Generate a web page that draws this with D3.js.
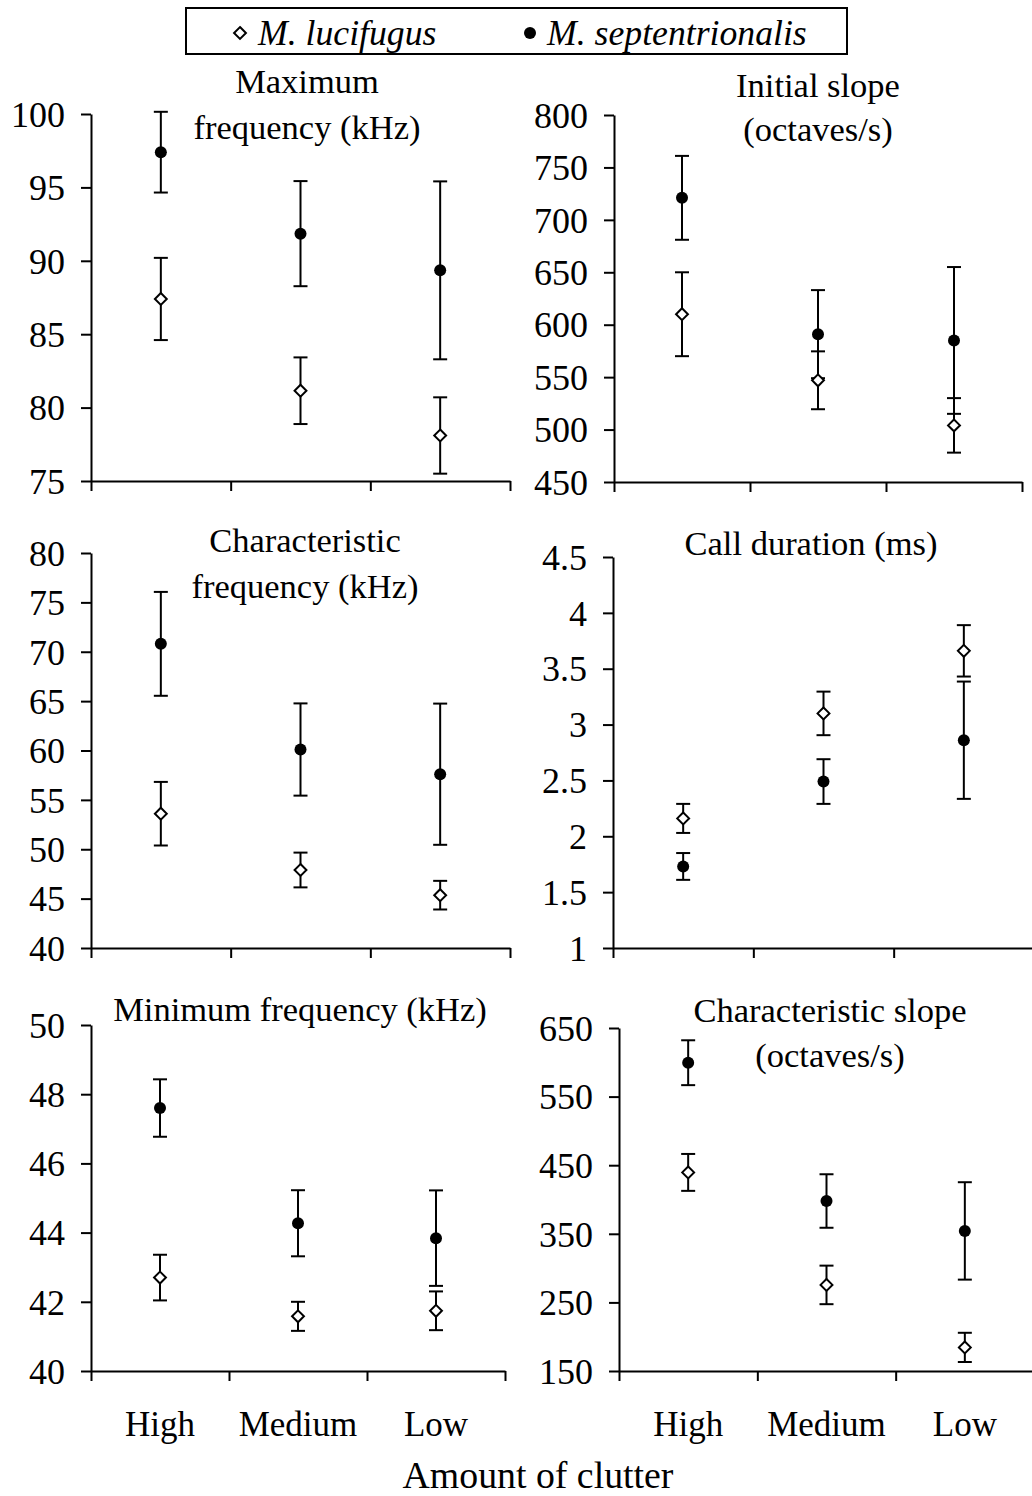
<!DOCTYPE html>
<html>
<head>
<meta charset="utf-8">
<script src="https://cdn.jsdelivr.net/npm/d3@7"></script>
<style>
  body { margin: 0; background: white; }
</style>
</head>
<body>
<svg id="chart" width="1032" height="1496"></svg>
<script>
var serif = "'Liberation Serif', 'Times New Roman', 'DejaVu Serif', serif";

var categories = ["High", "Medium", "Low"];

// means and half-width of the error bars, per panel
var maxFreqLuc = [87.4, 81.15, 78.1];
var maxFreqLucErr = [2.8, 2.27, 2.6];
var maxFreqSept = [97.4, 91.85, 89.35];
var maxFreqSeptErr = [2.75, 3.58, 6.06];

var initSlopeLuc = [610, 547, 504];
var initSlopeLucErr = [40, 27.6, 26];
var initSlopeSept = [721, 591, 585];
var initSlopeSeptErr = [40, 42, 70];

var charFreqLuc = [53.6, 47.9, 45.35];
var charFreqLucErr = [3.22, 1.76, 1.45];
var charFreqSept = [70.8, 60.1, 57.6];
var charFreqSeptErr = [5.26, 4.67, 7.15];

var durationLuc = [2.16, 3.1, 3.66];
var durationLucErr = [0.13, 0.195, 0.23];
var durationSept = [1.73, 2.49, 2.86];
var durationSeptErr = [0.12, 0.2, 0.525];

var minFreqLuc = [42.7, 41.58, 41.74];
var minFreqLucErr = [0.66, 0.42, 0.56];
var minFreqSept = [47.6, 44.27, 43.84];
var minFreqSeptErr = [0.83, 0.955, 1.38];

var charSlopeLuc = [439.5, 275.5, 184.4];
var charSlopeLucErr = [26.9, 28.1, 21.3];
var charSlopeSept = [599.4, 397.8, 354.2];
var charSlopeSeptErr = [32.7, 39, 71];

var maxFreqTicks = [75, 80, 85, 90, 95, 100];
var initSlopeTicks = [450, 500, 550, 600, 650, 700, 750, 800];
var charFreqTicks = [40, 45, 50, 55, 60, 65, 70, 75, 80];
var durationTicks = [1, 1.5, 2, 2.5, 3, 3.5, 4, 4.5];
var minFreqTicks = [40, 42, 44, 46, 48, 50];
var charSlopeTicks = [150, 250, 350, 450, 550, 650];

var panels = [
  { title: ["Maximum", "frequency (kHz)"], titleX: 307, titleY: [93, 139],
    x: [91, 510], y: [114, 481], ticks: maxFreqTicks,
    luc: maxFreqLuc, lucErr: maxFreqLucErr, sept: maxFreqSept, septErr: maxFreqSeptErr },
  { title: ["Initial slope", "(octaves/s)"], titleX: 818, titleY: [97, 141],
    x: [614, 1022], y: [115, 482], ticks: initSlopeTicks,
    luc: initSlopeLuc, lucErr: initSlopeLucErr, sept: initSlopeSept, septErr: initSlopeSeptErr },
  { title: ["Characteristic", "frequency (kHz)"], titleX: 305, titleY: [552, 598],
    x: [91, 510], y: [553, 948], ticks: charFreqTicks,
    luc: charFreqLuc, lucErr: charFreqLucErr, sept: charFreqSept, septErr: charFreqSeptErr },
  { title: ["Call duration (ms)"], titleX: 811, titleY: [555],
    x: [613, 1034], y: [557, 948], ticks: durationTicks,
    luc: durationLuc, lucErr: durationLucErr, sept: durationSept, septErr: durationSeptErr },
  { title: ["Minimum frequency (kHz)"], titleX: 300, titleY: [1021],
    x: [91, 505], y: [1025, 1371], ticks: minFreqTicks, labels: true,
    luc: minFreqLuc, lucErr: minFreqLucErr, sept: minFreqSept, septErr: minFreqSeptErr },
  { title: ["Characteristic slope", "(octaves/s)"], titleX: 830, titleY: [1022, 1067],
    x: [619, 1034], y: [1028, 1371], ticks: charSlopeTicks, labels: true,
    luc: charSlopeLuc, lucErr: charSlopeLucErr, sept: charSlopeSept, septErr: charSlopeSeptErr }
];

var svg = d3.select("#chart").attr("font-family", serif);
var diamond = d3.symbol().type(d3.symbolDiamond2).size(90);
var capHalf = 7;

panels.forEach(function (p) {
  var yMin = d3.min(p.ticks), yMax = d3.max(p.ticks);
  var y = d3.scaleLinear().domain([yMin, yMax]).range([p.y[1], p.y[0]]);
  var x = d3.scaleLinear().domain([0, 3]).range(p.x);
  var band = d3.scaleBand().domain(categories).range(p.x);

  var g = svg.append("g");

  // y axis
  var yAxis = g.append("g")
    .attr("transform", "translate(" + p.x[0] + ",0)")
    .call(d3.axisLeft(y).tickValues(p.ticks).tickSize(10).tickSizeOuter(0).tickPadding(16)
      .tickFormat(function (d) { return String(d); }));
  yAxis.attr("font-family", serif).attr("font-size", 36);
  yAxis.selectAll("text").attr("dy", "0.34em").attr("fill", "black");

  // x axis, ticks on the category boundaries
  var xAxis = g.append("g")
    .attr("transform", "translate(0," + p.y[1] + ")")
    .call(d3.axisBottom(x).tickValues([0, 1, 2, 3]).tickSize(10).tickSizeOuter(0).tickFormat(""));

  g.selectAll(".domain, .tick line").attr("stroke", "black").attr("stroke-width", 2);

  if (p.labels) {
    g.selectAll(".cat")
      .data(categories)
      .enter()
      .append("text")
      .attr("x", function (d) { return band(d) + band.bandwidth() / 2; })
      .attr("y", 1436)
      .attr("text-anchor", "middle")
      .attr("font-family", serif)
      .attr("font-size", 35)
      .text(function (d) { return d; });
  }

  // panel title
  p.title.forEach(function (line, i) {
    g.append("text")
      .attr("x", p.titleX)
      .attr("y", p.titleY[i])
      .attr("text-anchor", "middle")
      .attr("font-family", serif)
      .attr("font-size", 34.5)
      .text(line);
  });

  // error bars + markers for both species
  var series = [
    { mean: p.sept, err: p.septErr, kind: "sept" },
    { mean: p.luc, err: p.lucErr, kind: "luc" }
  ];
  series.forEach(function (s) {
    var pts = categories.map(function (c, i) {
      return { cx: band(c) + band.bandwidth() / 2, m: s.mean[i], e: s.err[i] };
    });
    var eb = g.append("g").attr("stroke", "black").attr("stroke-width", 2);
    eb.selectAll(".v").data(pts).enter().append("line")
      .attr("x1", function (d) { return d.cx; }).attr("x2", function (d) { return d.cx; })
      .attr("y1", function (d) { return y(d.m + d.e); })
      .attr("y2", function (d) { return y(d.m - d.e); });
    eb.selectAll(".top").data(pts).enter().append("line")
      .attr("x1", function (d) { return d.cx - capHalf; }).attr("x2", function (d) { return d.cx + capHalf; })
      .attr("y1", function (d) { return y(d.m + d.e); })
      .attr("y2", function (d) { return y(d.m + d.e); });
    eb.selectAll(".bot").data(pts).enter().append("line")
      .attr("x1", function (d) { return d.cx - capHalf; }).attr("x2", function (d) { return d.cx + capHalf; })
      .attr("y1", function (d) { return y(d.m - d.e); })
      .attr("y2", function (d) { return y(d.m - d.e); });

    if (s.kind == "sept") {
      g.selectAll(".sept").data(pts).enter().append("circle")
        .attr("cx", function (d) { return d.cx; })
        .attr("cy", function (d) { return y(d.m); })
        .attr("r", 6)
        .attr("fill", "black");
    } else {
      g.selectAll(".luc").data(pts).enter().append("path")
        .attr("d", diamond)
        .attr("transform", function (d) { return "translate(" + d.cx + "," + y(d.m) + ")"; })
        .attr("fill", "white")
        .attr("stroke", "black")
        .attr("stroke-width", 2);
    }
  });
});

// shared x title
svg.append("text")
  .attr("x", 538)
  .attr("y", 1488)
  .attr("text-anchor", "middle")
  .attr("font-family", serif)
  .attr("font-size", 37.8)
  .text("Amount of clutter");

// legend
var legend = svg.append("g").attr("font-family", serif);
legend.append("rect")
  .attr("x", 186).attr("y", 8).attr("width", 661).attr("height", 46)
  .attr("fill", "white").attr("stroke", "black").attr("stroke-width", 2);
legend.append("path")
  .attr("d", diamond)
  .attr("transform", "translate(240,33)")
  .attr("fill", "white").attr("stroke", "black").attr("stroke-width", 2);
legend.append("text")
  .attr("x", 258).attr("y", 45)
  .attr("font-size", 35.7).attr("font-style", "italic")
  .text("M. lucifugus");
legend.append("circle")
  .attr("cx", 530).attr("cy", 33).attr("r", 6).attr("fill", "black");
legend.append("text")
  .attr("x", 547).attr("y", 45)
  .attr("font-size", 35.7).attr("font-style", "italic")
  .text("M. septentrionalis");
</script>
</body>
</html>
